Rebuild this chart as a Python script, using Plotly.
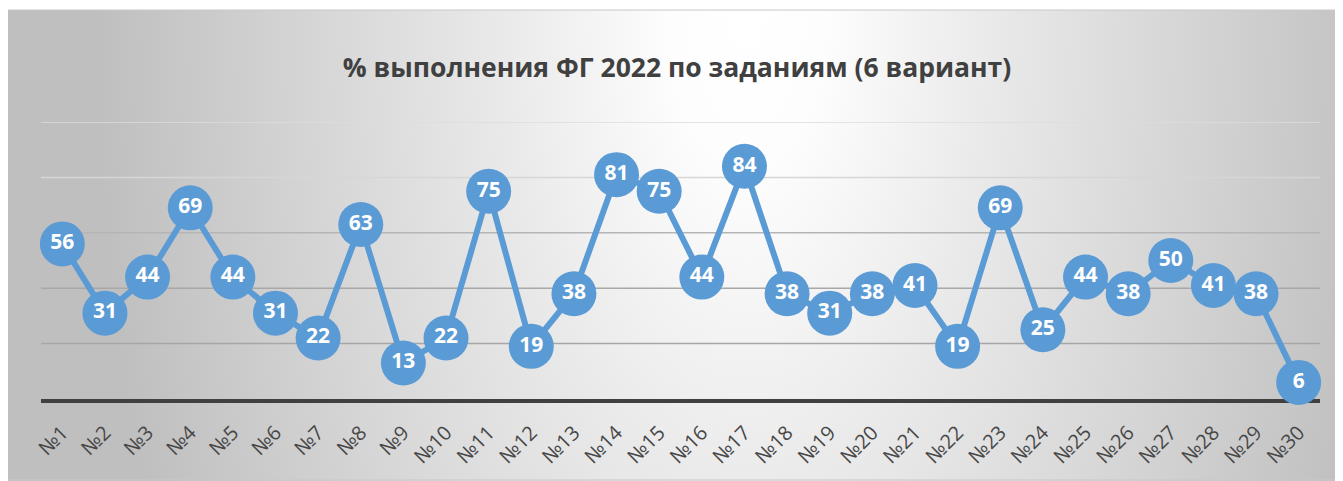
import base64
import plotly.graph_objects as go

categories = [f"№{i}" for i in range(1, 31)]
values = [56, 31, 44, 69, 44, 31, 22, 63, 13, 22, 75, 19, 38, 81, 75, 44, 84, 38,
          31, 38, 41, 19, 69, 25, 44, 38, 50, 41, 38, 6]
grid_levels = [20, 40, 60, 80, 100]
grid_colors = ["#a6a6a6", "#a8a8a8", "#b5b5b5", "#d6d6d6", "#dcdcdc"]
title_text = "% выполнения ФГ 2022 по заданиям (6 вариант)"

# the page body has an 8px margin, so the figure is laid out in page coords minus 8
OFF = 8
W, H = 1343 - OFF, 481 - OFF
L, R, T, B = 41 - OFF, 1320 - OFF, 122 - OFF, 399 - OFF
pw, ph = R - L, B - T

svg = '''<svg xmlns="http://www.w3.org/2000/svg" width="1336" height="471" viewBox="0 0 1336 471" preserveAspectRatio="none">
<defs><radialGradient id="g" gradientUnits="userSpaceOnUse" cx="740" cy="0" r="650"
 gradientTransform="translate(740 0) scale(1 2) translate(-740 0)">
<stop offset="0" stop-color="#ffffff"/><stop offset="0.12" stop-color="#fdfdfd"/>
<stop offset="0.37" stop-color="#eaeaea"/>
<stop offset="1" stop-color="#bfbfbf"/></radialGradient></defs>
<rect width="1336" height="471" fill="url(#g)"/></svg>'''
src = "data:image/svg+xml;base64," + base64.b64encode(svg.encode()).decode()

def px_x(x):
    return (x - OFF - L) / pw

def px_y(y):
    return (B - (y - OFF)) / ph

fig = go.Figure()
fig.add_trace(go.Scatter(
    x=categories, y=values, mode="lines+markers+text",
    line=dict(color="#5B9BD5", width=6),
    marker=dict(size=45, color="#5B9BD5"),
    text=[f"<b>{v}</b>" for v in values],
    textposition="middle center",
    textfont=dict(family="Open Sans", size=21, color="white"),
    hoverinfo="skip", cliponaxis=False,
))

shapes = []
for lvl, col in zip(grid_levels, grid_colors):
    shapes.append(dict(type="line", xref="paper", yref="y", x0=0, x1=1, y0=lvl, y1=lvl,
                       line=dict(color=col, width=1.5), layer="below"))
shapes.append(dict(type="rect", xref="paper", yref="paper",
                   x0=px_x(7), x1=px_x(1343), y0=px_y(480), y1=px_y(10),
                   line=dict(color="#c8c8c8", width=1), layer="below"))

fig.update_layout(
    width=W, height=H,
    margin=dict(l=L, r=W - R, t=T, b=H - B, autoexpand=False),
    paper_bgcolor="white", plot_bgcolor="rgba(0,0,0,0)",
    showlegend=False,
    title=dict(text=f"<b>{title_text}</b>", x=(677 - OFF) / W, xanchor="center",
               xref="container", y=1 - (68 - OFF) / H, yanchor="middle", yref="container",
               font=dict(family="Open Sans", size=26.5, color="#404040")),
    xaxis=dict(type="category", range=[-0.5, 29.5], showgrid=False, zeroline=False,
               showline=True, linecolor="#404040", linewidth=4, layer="below traces",
               ticks="", tickangle=-45, automargin=False,
               ticklabelstandoff=10,
               tickfont=dict(family="Open Sans", size=20, color="#474747")),
    yaxis=dict(range=[0, 100], showgrid=False, zeroline=False, showticklabels=False,
               showline=False, ticks="", automargin=False),
    shapes=shapes,
    images=[dict(source=src, xref="paper", yref="paper", x=px_x(7), y=px_y(10),
                 sizex=px_x(1343) - px_x(7), sizey=px_y(10) - px_y(481),
                 xanchor="left", yanchor="top", sizing="stretch", layer="below")],
)

fig.write_html("out.html")
